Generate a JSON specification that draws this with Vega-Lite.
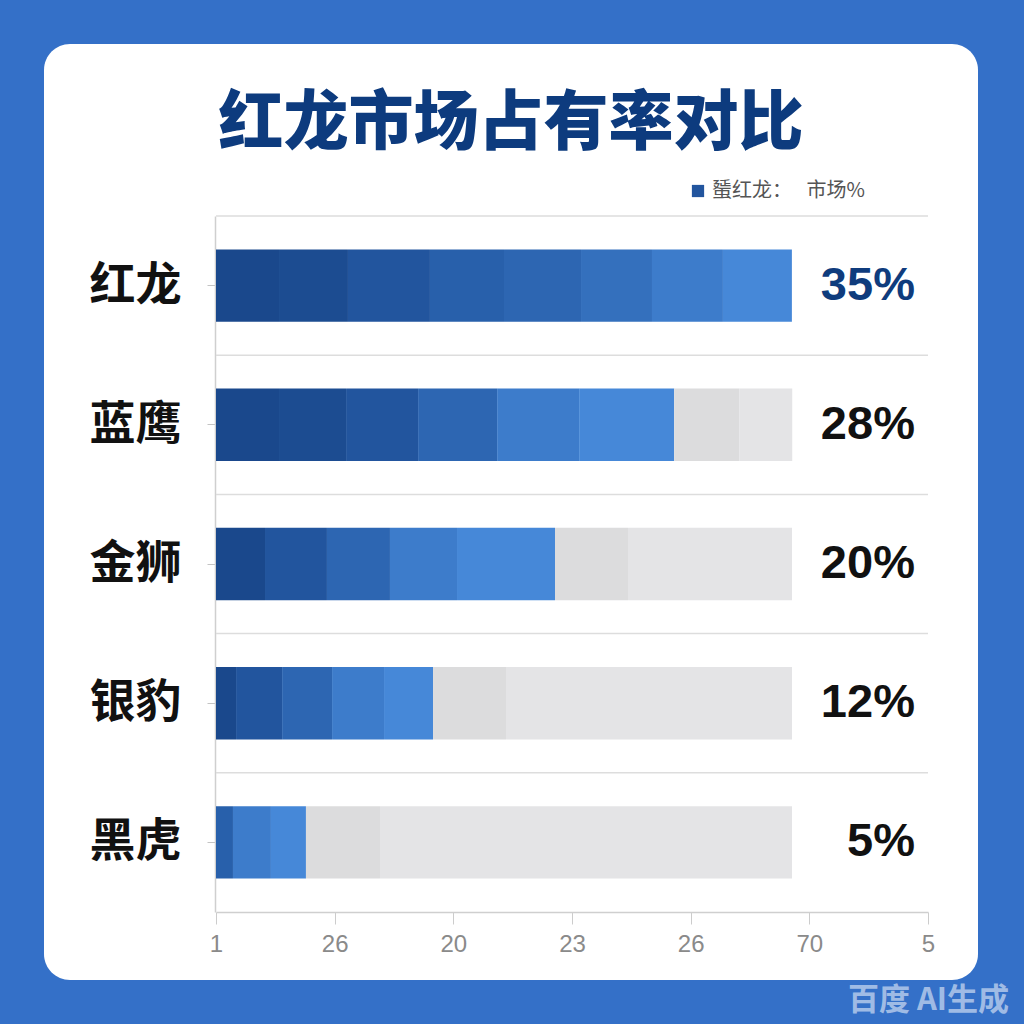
{
  "$schema": "https://vega.github.io/schema/vega-lite/v6.json",
  "width": 934,
  "height": 936,
  "autosize": {"type": "none"},
  "padding": {"left": 44, "top": 44, "right": 46, "bottom": 44},
  "background": "#3470c8",
  "title": {
    "text": "红龙市场占有率对比",
    "anchor": "middle",
    "frame": "group",
    "offset": -145,
    "baseline": "middle",
    "font": "Noto Sans CJK SC",
    "fontSize": 65,
    "fontWeight": 900,
    "color": "#0d3b7e"
  },
  "datasets": {
    "segments": [
      {"brand": "红龙", "seg": 1, "tone": "t1", "len": 0.531},
      {"brand": "红龙", "seg": 2, "tone": "t2", "len": 0.581},
      {"brand": "红龙", "seg": 3, "tone": "t3", "len": 0.691},
      {"brand": "红龙", "seg": 4, "tone": "t4", "len": 0.624},
      {"brand": "红龙", "seg": 5, "tone": "t5", "len": 0.649},
      {"brand": "红龙", "seg": 6, "tone": "t6", "len": 0.598},
      {"brand": "红龙", "seg": 7, "tone": "t7", "len": 0.598},
      {"brand": "红龙", "seg": 8, "tone": "t8", "len": 0.581},
      {"brand": "蓝鹰", "seg": 1, "tone": "t1", "len": 0.531},
      {"brand": "蓝鹰", "seg": 2, "tone": "t2", "len": 0.565},
      {"brand": "蓝鹰", "seg": 3, "tone": "t3", "len": 0.607},
      {"brand": "蓝鹰", "seg": 4, "tone": "t5", "len": 0.666},
      {"brand": "蓝鹰", "seg": 5, "tone": "t7", "len": 0.691},
      {"brand": "蓝鹰", "seg": 6, "tone": "t8", "len": 0.801},
      {"brand": "蓝鹰", "seg": 7, "tone": "g1", "len": 0.548},
      {"brand": "蓝鹰", "seg": 8, "tone": "g2", "len": 0.447},
      {"brand": "金狮", "seg": 1, "tone": "t1", "len": 0.413},
      {"brand": "金狮", "seg": 2, "tone": "t3", "len": 0.522},
      {"brand": "金狮", "seg": 3, "tone": "t5", "len": 0.531},
      {"brand": "金狮", "seg": 4, "tone": "t7", "len": 0.565},
      {"brand": "金狮", "seg": 5, "tone": "t8", "len": 0.826},
      {"brand": "金狮", "seg": 6, "tone": "g1", "len": 0.615},
      {"brand": "金狮", "seg": 7, "tone": "g2", "len": 1.382},
      {"brand": "银豹", "seg": 1, "tone": "t1", "len": 0.169},
      {"brand": "银豹", "seg": 2, "tone": "t3", "len": 0.388},
      {"brand": "银豹", "seg": 3, "tone": "t5", "len": 0.421},
      {"brand": "银豹", "seg": 4, "tone": "t7", "len": 0.438},
      {"brand": "银豹", "seg": 5, "tone": "t8", "len": 0.413},
      {"brand": "银豹", "seg": 6, "tone": "g1", "len": 0.615},
      {"brand": "银豹", "seg": 7, "tone": "g2", "len": 2.410},
      {"brand": "黑虎", "seg": 1, "tone": "t4", "len": 0.143},
      {"brand": "黑虎", "seg": 2, "tone": "t7", "len": 0.320},
      {"brand": "黑虎", "seg": 3, "tone": "t8", "len": 0.295},
      {"brand": "黑虎", "seg": 4, "tone": "g1", "len": 0.624},
      {"brand": "黑虎", "seg": 5, "tone": "g2", "len": 3.472}
    ],
    "brands": [
      {"brand": "红龙", "pct": "35%"},
      {"brand": "蓝鹰", "pct": "28%"},
      {"brand": "金狮", "pct": "20%"},
      {"brand": "银豹", "pct": "12%"},
      {"brand": "黑虎", "pct": "5%"}
    ]
  },
  "layer": [
    {
      "data": {"name": "brands"},
      "mark": {"type": "rule", "color": "#dddddd", "strokeWidth": 1.5},
      "encoding": {
        "y": {"field": "brand", "type": "nominal", "bandPosition": 0, "sort": ["红龙", "蓝鹰", "金狮", "银豹", "黑虎"]},
        "x": {"datum": 0},
        "x2": {"datum": 6}
      }
    },
    {
      "data": {"name": "segments"},
      "mark": {"type": "bar", "height": {"band": 0.52}},
      "encoding": {
        "y": {
          "field": "brand",
          "type": "nominal",
          "sort": ["红龙", "蓝鹰", "金狮", "银豹", "黑虎"],
          "scale": {"range": [172, 868], "paddingInner": 0, "paddingOuter": 0},
          "axis": {
            "title": null,
            "orient": "left",
            "offset": -171,
            "grid": false,
            "domainColor": "#cfcfcf",
            "domainWidth": 1.5,
            "tickColor": "#c4c4c4",
            "tickSize": 8,
            "labelFont": "Noto Sans CJK SC",
            "labelFontSize": 46,
            "labelFontWeight": "bold",
            "labelColor": "#111111",
            "labelPadding": 26
          }
        },
        "x": {
          "field": "len",
          "type": "quantitative",
          "stack": "zero",
          "scale": {"domain": [0, 6], "range": [172, 884], "nice": false, "zero": false},
          "axis": {
            "title": "百度 AI生成",
            "orient": "bottom",
            "offset": -68,
            "values": [0, 1, 2, 3, 4, 5, 6],
            "labelExpr": "['1','26','20','23','26','70','5'][datum.value]",
            "grid": false,
            "domainColor": "#cfcfcf",
            "domainWidth": 1.5,
            "tickColor": "#cccccc",
            "tickSize": 12,
            "labelFont": "Liberation Sans",
            "labelFontSize": 24,
            "labelColor": "#8a8a8a",
            "labelPadding": 8,
            "labelFlush": false,
            "titleX": 884,
            "titleY": 88,
            "titleAlign": "center",
            "titleBaseline": "middle",
            "titleFont": "Noto Sans CJK SC",
            "titleFontSize": 31,
            "titleFontWeight": "bold",
            "titleColor": "rgba(255,255,255,0.55)"
          }
        },
        "color": {
          "field": "tone",
          "type": "nominal",
          "scale": {
            "domain": ["t1", "t2", "t3", "t4", "t5", "t6", "t7", "t8", "g1", "g2"],
            "range": ["#1a488c", "#1c4c91", "#22559e", "#2860ab", "#2d66b2", "#3470bd", "#3d7ccb", "#4688d8", "#dcdcdd", "#e4e4e6"]
          },
          "legend": {
            "orient": "none",
            "legendX": 644,
            "legendY": 137,
            "values": ["t3"],
            "labelExpr": "'蜑红龙：　  市场%'",
            "title": null,
            "symbolType": "square",
            "symbolSize": 150,
            "symbolStrokeWidth": 0,
            "labelFont": "Noto Sans CJK SC",
            "labelFontSize": 20,
            "labelColor": "#555555",
            "labelOffset": 4
          }
        },
        "order": {"field": "seg", "type": "quantitative"}
      }
    },
    {
      "data": {"name": "brands"},
      "mark": {"type": "text", "align": "right", "baseline": "middle", "font": "Liberation Sans", "fontSize": 47, "fontWeight": "bold"},
      "encoding": {
        "y": {"field": "brand", "type": "nominal", "sort": ["红龙", "蓝鹰", "金狮", "银豹", "黑虎"]},
        "x": {"datum": 5.89},
        "text": {"field": "pct"},
        "color": {"condition": {"test": "datum.brand === '红龙'", "value": "#0f3c7d"}, "value": "#111111"}
      }
    }
  ],
  "config": {
    "view": {"fill": "white", "cornerRadius": 26, "stroke": null}
  }
}
